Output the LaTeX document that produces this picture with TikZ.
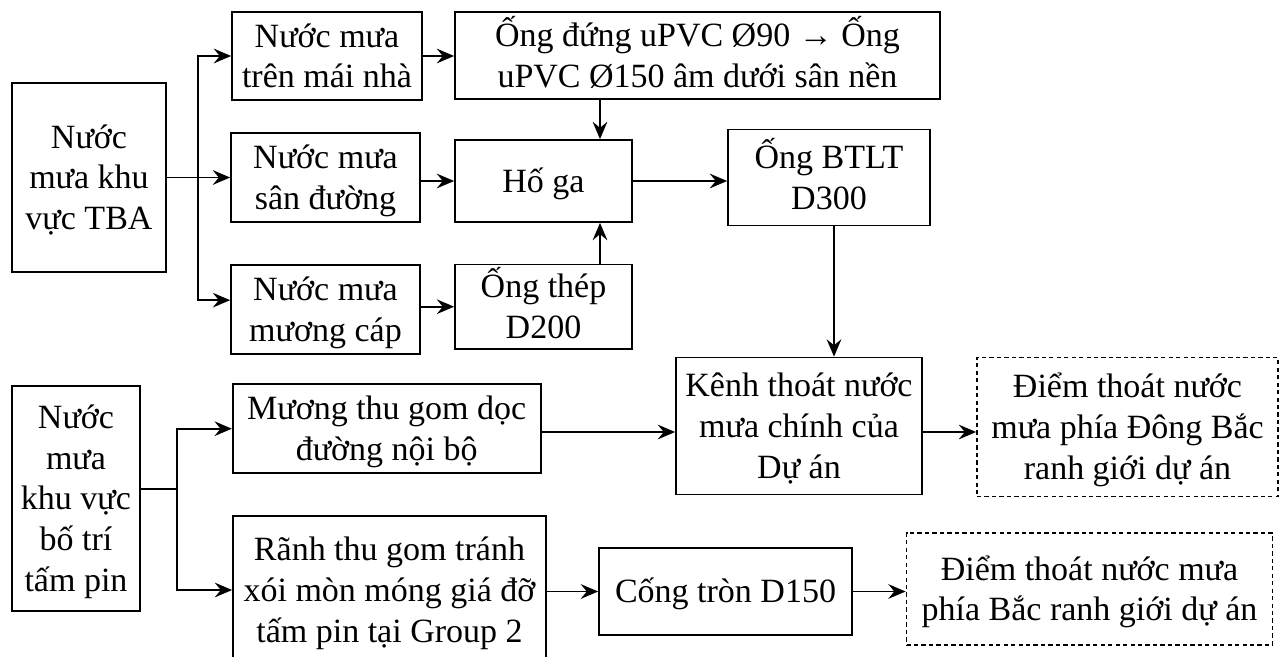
\documentclass[tikz,border=0pt]{standalone}
\usepackage{fontspec}
\setmainfont{Liberation Serif}
\usetikzlibrary{positioning, arrows.meta}
% line strut, as the boxes lay out their lines
\newcommand\sv{\rule[-0.2625em]{0pt}{1.2em}}

\begin{document}
\begin{tikzpicture}[x=0.75pt, y=-0.75pt, line width=1.3pt,
    arr/.style={-{Stealth[length=13pt,width=11pt,inset=4.5pt]}},
    box/.style={draw, align=center, inner sep=1pt,
      font=\fontsize{25.5}{30.6}\selectfont},
    dashbox/.style={box, dash pattern=on 3.2pt off 2.4pt}]
  \useasboundingbox (0,0) rectangle (1283,657);
  \clip (0,0) rectangle (1283,657);

  % khu vuc TBA
  \node[box, minimum width=115.5pt, minimum height=141.75pt] (tba) at (89,177.5)
    {\sv Nước\\\sv mưa khu\\\sv vực TBA};
  \node[box, minimum width=142.5pt, minimum height=66pt] (mai) at (327,56)
    {\sv Nước mưa\\\sv trên mái nhà};
  \node[box, minimum width=141.75pt, minimum height=66.75pt] (san) at (325.5,177.5)
    {\sv Nước mưa\\\sv sân đường};
  \node[box, minimum width=141.75pt, minimum height=66.75pt] (muong) at (325.5,309.5)
    {\sv Nước mưa\\\sv mương cáp};
  \node[box, minimum width=363.75pt, minimum height=65.25pt] (ongdung) at (697.5,55.5)
    {\sv Ống đứng uPVC Ø90 → Ống\\\sv uPVC Ø150 âm dưới sân nền};
  \node[box, minimum width=132.75pt, minimum height=61.5pt] (hoga) at (543.5,181)
    {\sv Hố ga};
  \node[box, minimum width=132.75pt, minimum height=61.5pt] (thep) at (543.5,306.7)
    {\sv Ống thép\\\sv D200};
  \node[box, minimum width=151.5pt, minimum height=72pt] (btlt) at (829,177.5)
    {\sv Ống BTLT\\\sv D300};
  \node[box, minimum width=184.5pt, minimum height=102.75pt] (kenh) at (799,426)
    {\sv Kênh thoát nước\\\sv mưa chính của\\\sv Dự án};
  \node[dashbox, minimum width=225.75pt, minimum height=104.25pt] (dongbac) at (1127.5,427)
    {\sv Điểm thoát nước\\\sv mưa phía Đông Bắc\\\sv ranh giới dự án};

  % khu vuc tam pin
  \node[box, minimum width=96pt, minimum height=168.75pt] (pin) at (76,498.5)
    {\sv Nước\\\sv mưa\\\sv khu vực\\\sv bố trí\\\sv tấm pin};
  \node[box, minimum width=231pt, minimum height=66.75pt] (muongthu) at (386.7,428.7)
    {\sv Mương thu gom dọc\\\sv đường nội bộ};
  \node[box, minimum width=234.75pt, minimum height=111pt] (ranh) at (389.5,590)
    {\sv Rãnh thu gom tránh\\\sv xói mòn móng giá đỡ\\\sv tấm pin tại Group 2};
  \node[box, minimum width=189.75pt, minimum height=65.25pt] (cong) at (725.5,591.5)
    {\sv Cống tròn D150};
  \node[dashbox, minimum width=274.5pt, minimum height=84pt] (bac) at (1089.5,589)
    {\sv Điểm thoát nước mưa\\\sv phía Bắc ranh giới dự án};

  % diem re nhanh
  \coordinate (f1) at (198,177.5);
  \coordinate (f2) at (177,489);
  \coordinate (v1) at (600,0);
  \coordinate (v2) at (834,0);
  \coordinate (h1) at (0,432);

  \draw (tba.east) -- (f1);
  \draw[arr] (f1) |- (mai.west);
  \draw[arr] (f1) -- (san.west);
  \draw[arr] (f1) |- ([yshift=7pt]muong.west);
  \draw[arr] (mai.east) -- (mai.east -| ongdung.west);
  \draw[arr] (san.east |- hoga.west) -- (hoga.west);
  \draw[arr] (muong.east |- thep.west) -- (thep.west);
  \draw[arr] (v1 |- ongdung.south) -- (v1 |- hoga.north);
  \draw[arr] (v1 |- thep.north) -- (v1 |- hoga.south);
  \draw[arr] (hoga.east) -- (hoga.east -| btlt.west);
  \draw[arr] (v2 |- btlt.south) -- (v2 |- kenh.north);

  \draw (pin.east |- f2) -- (f2);
  \draw[arr] (f2) |- (muongthu.west);
  \draw[arr] (f2) |- (ranh.west);
  \draw[arr] (h1 -| muongthu.east) -- (h1 -| kenh.west);
  \draw[arr] (h1 -| kenh.east) -- (h1 -| dongbac.west);
  \draw[arr] (ranh.east |- cong.west) -- (cong.west);
  \draw[arr] (cong.east) -- (cong.east -| bac.west);
\end{tikzpicture}
\end{document}
